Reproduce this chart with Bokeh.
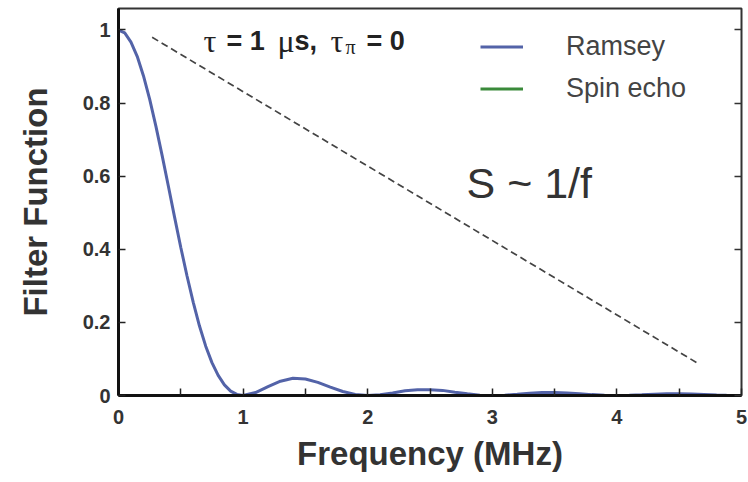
import math
from bokeh.plotting import figure
from bokeh.models import (Range1d, FixedTicker, LinearAxis, Label, Legend, LegendItem)
from bokeh.embed import file_html
from bokeh.resources import INLINE

# ---- data ----
freq = [0, 0.05, 0.1, 0.15, 0.2, 0.25, 0.3, 0.35, 0.4, 0.45, 0.5, 0.55, 0.6, 0.65,
        0.7, 0.75, 0.8, 0.85, 0.9, 0.95, 1.0, 1.1, 1.2, 1.3, 1.4, 1.5, 1.6, 1.7,
        1.8, 1.9, 2.0, 2.1, 2.2, 2.3, 2.4, 2.5, 2.6, 2.7, 2.8, 2.9, 3.0, 3.1, 3.2,
        3.3, 3.4, 3.5, 3.6, 3.7, 3.8, 3.9, 4.0, 4.1, 4.2, 4.3, 4.4, 4.5, 4.6, 4.7,
        4.8, 4.88]
ramsey = [1.0, 0.992, 0.967, 0.928, 0.875, 0.811, 0.737, 0.657, 0.573, 0.488, 0.405,
          0.327, 0.255, 0.190, 0.135, 0.090, 0.055, 0.029, 0.012, 0.003, 0.0, 0.008,
          0.024, 0.039, 0.047, 0.045, 0.036, 0.023, 0.011, 0.003, 0.0, 0.002, 0.007,
          0.013, 0.016, 0.016, 0.014, 0.009, 0.0045, 0.001, 0.0, 0.001, 0.0034, 0.006,
          0.008, 0.008, 0.007, 0.005, 0.0024, 0.0006, 0.0, 0.0006, 0.002, 0.0036,
          0.0047, 0.005, 0.0043, 0.003, 0.0015, 0.001]
spin_echo_x = [float("nan")]
spin_echo_y = [float("nan")]
noise_x = [0.27, 4.65]
noise_y = [0.98, 0.088]

x_ticks = [0, 1, 2, 3, 4, 5]
x_tick_labels = ["0", "1", "2", "3", "4", "5"]
x_minor = [0.5, 1.5, 2.5, 3.5, 4.5]
y_ticks = [0, 0.2, 0.4, 0.6, 0.8, 1]
y_tick_labels = ["0", "0.2", "0.4", "0.6", "0.8", "1"]

# ---- figure ----
p = figure(width=748, height=482, output_backend="svg", toolbar_location=None,
           x_range=Range1d(0, 5), y_range=Range1d(0, 1.0588),
           min_border_left=118, min_border_right=7, min_border_top=8,
           min_border_bottom=87)
p.grid.visible = False
p.background_fill_color = "white"
p.border_fill_color = "white"
p.outline_line_color = "#333333"
p.outline_line_width = 2

for ax in (p.xaxis[0], p.yaxis[0]):
    ax.axis_line_width = 3
    ax.axis_line_color = "#111111"
    ax.major_tick_in = 7
    ax.major_tick_out = 0
    ax.minor_tick_in = 7
    ax.minor_tick_out = 0
    ax.major_tick_line_color = "#222222"
    ax.minor_tick_line_color = "#222222"
    ax.major_tick_line_width = 1.5
    ax.minor_tick_line_width = 1.5
    ax.major_label_text_font = "Liberation Sans"
    ax.major_label_text_font_style = "bold"
    ax.major_label_text_font_size = "20px"
    ax.major_label_text_color = "#333333"
    ax.axis_label_text_font = "Liberation Sans"
    ax.axis_label_text_font_style = "bold"
    ax.axis_label_text_font_size = "33px"
    ax.axis_label_text_color = "#333333"

p.xaxis.ticker = FixedTicker(ticks=x_ticks, minor_ticks=x_minor)
p.xaxis.major_label_overrides = dict(zip(x_ticks, x_tick_labels))
p.xaxis.major_label_standoff = 14
p.xaxis.axis_label = "Frequency (MHz)"
p.xaxis.axis_label_standoff = 8
p.yaxis.ticker = FixedTicker(ticks=y_ticks, minor_ticks=[])
p.yaxis.major_label_overrides = dict(zip(y_ticks, y_tick_labels))
p.yaxis.major_label_standoff = 8
p.yaxis.axis_label = "Filter Function"
p.yaxis.axis_label_standoff = 26

right = LinearAxis(ticker=FixedTicker(ticks=y_ticks, minor_ticks=[]))
right.axis_line_color = None
right.major_tick_in = 7
right.major_tick_out = 0
right.minor_tick_line_color = None
right.major_tick_line_color = "#333333"
right.major_tick_line_width = 1.5
right.major_label_text_color = None
right.major_label_text_font_size = "0px"
right.major_label_standoff = 0
p.add_layout(right, "right")

# ---- marks ----
p.line(noise_x, noise_y, line_color="#444444", line_width=1.7, line_dash="7 4")
r_echo = p.line(spin_echo_x, spin_echo_y, line_color="#3a8a3a", line_width=3)
r_ramsey = p.line(freq, ramsey, line_color="#5363a8", line_width=3)

legend = Legend(items=[LegendItem(label="Ramsey", renderers=[r_ramsey]),
                       LegendItem(label="Spin echo", renderers=[r_echo])],
                location=(362, 291), glyph_width=43, glyph_height=31,
                label_height=31, label_standoff=43, spacing=11, padding=0, margin=0,
                border_line_color=None, background_fill_alpha=0,
                label_text_font="Liberation Sans", label_text_font_size="27px",
                label_text_color="#444444")
p.add_layout(legend)

def X(px):
    return (px - 118) / 124.6

def Y(py):
    return (395 - py) / 365.5

def lab(text, px, py, size, font="Liberation Sans", style="normal", color="#222222"):
    p.add_layout(Label(x=X(px), y=Y(py), text=text, text_font=font,
                       text_font_size=size, text_font_style=style, text_color=color,
                       text_align="left", text_baseline="alphabetic"))

# annotation "τ = 1 μs, τπ = 0"
base = 41
lab("τ", 203, base, "32px", font="Liberation Serif")
lab("= 1", 226, base, "27px", style="bold")
lab("μ", 277, base, "32px", font="Liberation Serif")
lab("s,", 294, base, "27px", style="bold")
lab("τ", 330, base, "32px", font="Liberation Serif")
lab("π", 345, base + 6, "20px", font="Liberation Serif")
lab("= 0", 366, base, "27px", style="bold")

lab("S ~ 1/f", 466, 183, "43px", color="#333333")

open("out.html", "w").write(file_html(p, INLINE))
